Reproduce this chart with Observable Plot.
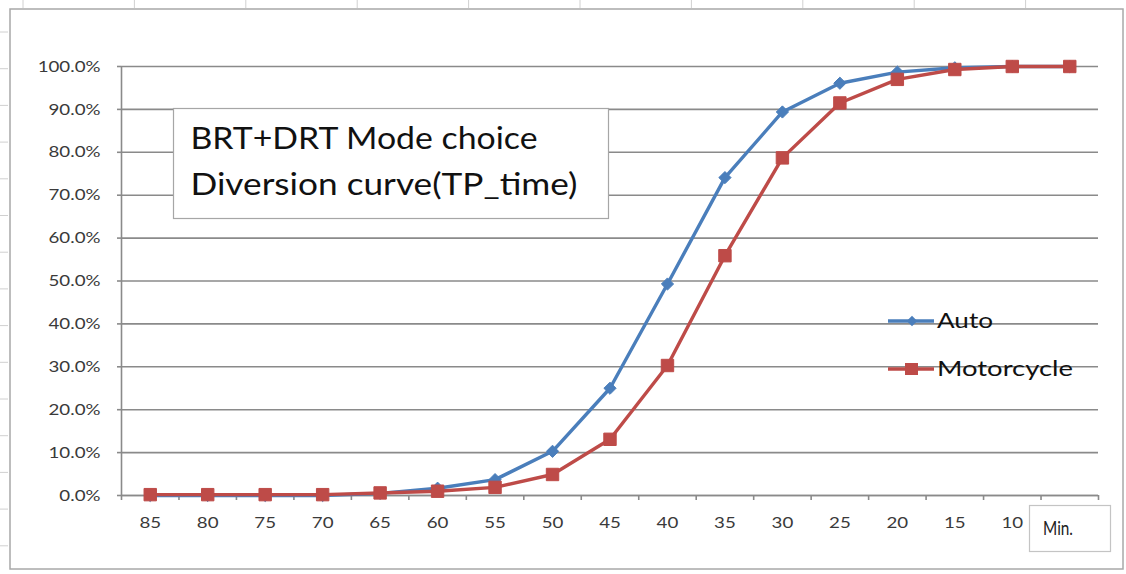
<!DOCTYPE html>
<html><head><meta charset="utf-8">
<script src="https://cdn.jsdelivr.net/npm/d3@7"></script>
<script src="https://cdn.jsdelivr.net/npm/@observablehq/plot@0.6"></script>
<style>
html,body{margin:0;padding:0;background:#fff;}
#chart{position:relative;width:1126px;height:574px;}
</style></head><body><div id="chart"></div>
<script>
// ---- data ----
const minutes = [85,80,75,70,65,60,55,50,45,40,35,30,25,20,15,10,5];
const labelledMinutes = [85,80,75,70,65,60,55,50,45,40,35,30,25,20,15,10];
const autoShare = [0,0,0,0,0.005,0.017,0.037,0.103,0.25,0.493,0.741,0.894,0.961,0.987,0.997,1.0,1.0];
const motoShare = [0.002,0.002,0.002,0.002,0.006,0.010,0.019,0.049,0.131,0.303,0.559,0.787,0.915,0.970,0.993,1.0,1.0];
const seriesNames = ["Auto","Motorcycle"];
const seriesColors = ["#4A7EBB","#BE4B48"];
const titleLines = ["BRT+DRT Mode choice","Diversion curve(TP_time)"];
const unitLabel = "Min.";
const yTicks = [0,0.1,0.2,0.3,0.4,0.5,0.6,0.7,0.8,0.9,1.0];

const autoRows = minutes.map((m,i)=>({min:m, value:autoShare[i], series:seriesNames[0]}));
const motoRows = minutes.map((m,i)=>({min:m, value:motoShare[i], series:seriesNames[1]}));
const boundaries = minutes.map(m=>m+2.5).concat([minutes[minutes.length-1]-2.5]);

const font = "Lato, 'Open Sans', sans-serif";
const gridColor = "#8a8a8a";
const plot = Plot.plot({
  width:1126, height:574,
  marginLeft:121, marginRight:28, marginTop:66, marginBottom:79,
  style:{fontFamily:font, fontSize:"16px", color:"#404040", background:"transparent", overflow:"visible"},
  x:{domain:[minutes[0]+2.5, minutes[minutes.length-1]-2.5]},
  y:{domain:[0,1]},
  marks:[
    Plot.gridY(yTicks, {stroke:gridColor, strokeOpacity:1, strokeWidth:1.6}),
    Plot.axisY(yTicks, {tickSize:4, tickPadding:17, tickFormat:d3.format(".1%"), stroke:gridColor, strokeWidth:1.6, fill:"#3a3a3a", label:null}),
    Plot.axisX(boundaries, {tickSize:5, tickFormat:()=>"", stroke:gridColor, strokeWidth:1.6, label:null}),
    Plot.axisX(labelledMinutes, {tickSize:0, tickPadding:21, fill:"#3a3a3a", label:null}),
    Plot.ruleX([minutes[0]+2.5], {stroke:gridColor, strokeWidth:1.6}),
    Plot.ruleY([0], {stroke:gridColor, strokeWidth:1.6}),
    Plot.line(autoRows, {x:"min", y:"value", stroke:seriesColors[0], strokeWidth:3.4}),
    Plot.dot(autoRows, {x:"min", y:"value", symbol:"diamond2", r:5.5, fill:seriesColors[0], stroke:seriesColors[0], strokeWidth:1}),
    Plot.line(motoRows, {x:"min", y:"value", stroke:seriesColors[1], strokeWidth:3.4}),
    Plot.dot(motoRows, {x:"min", y:"value", symbol:"square", r:7, fill:seriesColors[1], stroke:seriesColors[1], strokeWidth:1})
  ]
});
document.getElementById("chart").appendChild(plot);

const svg = d3.select(plot);
// widen axis tick labels slightly (reference glyphs are horizontally stretched)
svg.selectAll("g[aria-label$='tick label']").attr("font-size", 16);
svg.selectAll("g[aria-label$='tick label'] text").each(function(){
  const t = d3.select(this).attr("transform") || "";
  d3.select(this).attr("transform", t + " scale(1.17,1)");
});

// outer frame
svg.insert("rect", ":first-child").attr("x",10).attr("y",9).attr("width",1113).attr("height",560)
  .attr("fill","#fff").attr("stroke","#a8a8a8").attr("stroke-width",1.5);
// page ruler ticks
const deco = svg.insert("g", ":nth-child(2)").attr("stroke","#d0d0d0").attr("stroke-width",1);
for (let y=32; y<574; y+=36.7) deco.append("line").attr("x1",0).attr("x2",8).attr("y1",y).attr("y2",y);
for (let x=23; x<1126; x+=111.4) deco.append("line").attr("x1",x).attr("x2",x).attr("y1",0).attr("y2",8);

// title box
const tb = svg.append("g").attr("text-anchor","start");
tb.append("rect").attr("x",173.5).attr("y",108.5).attr("width",435).attr("height",110)
  .attr("fill","#fff").attr("stroke","#a6a6a6").attr("stroke-width",1.2);
const titleWidths = [347, 387];
titleLines.forEach((t,i)=>tb.append("text").attr("x",190.5).attr("y",149+i*46)
  .attr("font-family",font).attr("font-size",31).attr("fill","#111")
  .attr("textLength",titleWidths[i]).attr("lengthAdjust","spacingAndGlyphs").text(t));

// legend
const lg = svg.append("g").attr("text-anchor","start");
const legWidths = [56, 136];
[0,1].forEach(i=>{
  const y = 321 + i*48;
  lg.append("line").attr("x1",888).attr("x2",934).attr("y1",y).attr("y2",y)
    .attr("stroke",seriesColors[i]).attr("stroke-width",3.4);
  if (i===0) lg.append("path").attr("d",d3.symbol(d3.symbolDiamond2, 70)()).attr("transform",`translate(912,${y})`).attr("fill",seriesColors[i]);
  else lg.append("rect").attr("x",905).attr("y",y-6).attr("width",13).attr("height",12).attr("fill",seriesColors[i]);
  lg.append("text").attr("x",937).attr("y",y+6.5).attr("font-family",font)
    .attr("font-size",22).attr("fill","#111")
    .attr("textLength",legWidths[i]).attr("lengthAdjust","spacingAndGlyphs").text(seriesNames[i]);
});

// unit box
const ub = svg.append("g").attr("text-anchor","start");
ub.append("rect").attr("x",1029.5).attr("y",505.5).attr("width",81).attr("height",46)
  .attr("fill","#fff").attr("stroke","#c4c4c4").attr("stroke-width",1.2);
ub.append("text").attr("x",1043).attr("y",535).attr("font-family",font).attr("font-size",19)
  .attr("fill","#222").attr("textLength",30).attr("lengthAdjust","spacingAndGlyphs").text(unitLabel);
</script>
</body></html>
